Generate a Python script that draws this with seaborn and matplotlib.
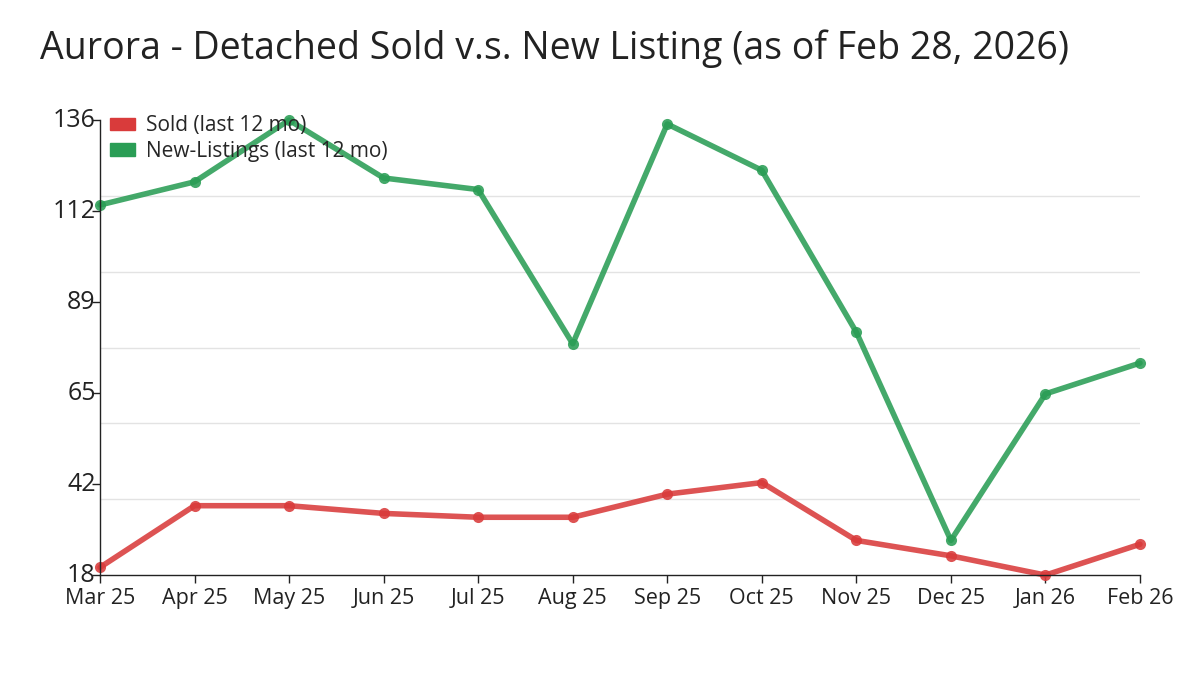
import pandas as pd
import seaborn as sns
import numpy as np
import matplotlib.pyplot as plt
import matplotlib.transforms as mtransforms
from matplotlib.patches import Patch
from matplotlib.ticker import FixedLocator

# data
months = ['Mar 25', 'Apr 25', 'May 25', 'Jun 25', 'Jul 25', 'Aug 25',
          'Sep 25', 'Oct 25', 'Nov 25', 'Dec 25', 'Jan 26', 'Feb 26']
sold = [20, 36, 36, 34, 33, 33, 39, 42, 27, 23, 18, 26]
new_listings = [114, 120, 136, 121, 118, 78, 135, 123, 81, 27, 65, 73]
series_names = ['Sold (last 12 mo)', 'New-Listings (last 12 mo)']
colors = ['#d93b3b', '#2a9d55']

df = pd.DataFrame({
    'month': list(range(len(months))) * 2,
    'value': sold + new_listings,
    'series': [series_names[0]] * len(months) + [series_names[1]] * len(months),
})

sns.set_style('white')
plt.rcParams['font.family'] = ['Open Sans', 'DejaVu Sans']

fig = plt.figure(figsize=(12, 6.75), dpi=100)
ax = fig.add_axes([0.0833, 0.148, 0.8667, 0.674])

sns.lineplot(data=df, x='month', y='value', hue='series', palette=colors,
             marker='o', markersize=8, markeredgewidth=0, linewidth=4,
             alpha=0.88, legend=False, ax=ax)
for ln in ax.lines:
    ln.set_clip_on(False)

ymin, ymax = min(sold), max(new_listings)
ax.set_xlim(0, len(months) - 1)
ax.set_ylim(ymin, ymax)

# labelled ticks at 5 steps, gridlines at 6 steps
yt = np.linspace(ymin, ymax, 6)
ax.set_yticks(yt)
ax.set_yticklabels([str(int(round(v))) for v in yt], fontsize=18, color='#222222')
ax.yaxis.set_minor_locator(FixedLocator(np.linspace(ymin, ymax, 7)))
ax.grid(False)
ax.grid(True, which='minor', axis='y', color='#e3e3e3', linewidth=1)
ax.tick_params(axis='y', which='minor', length=0)

ax.set_xticks(range(len(months)))
ax.set_xticklabels(months, fontsize=15.5, color='#222222')
ax.tick_params(axis='both', which='major', direction='out', length=6,
               width=1, color='#222222')
ax.tick_params(axis='x', bottom=True, pad=3)
ax.tick_params(axis='y', left=True, pad=-3)

# nudge y labels up a little, like the original
up = mtransforms.ScaledTranslation(0, 2.5 / 100, fig.dpi_scale_trans)
for lbl in ax.get_yticklabels():
    lbl.set_transform(lbl.get_transform() + up)

for s in ['top', 'right']:
    ax.spines[s].set_visible(False)
for s in ['left', 'bottom']:
    ax.spines[s].set_color('#222222')
    ax.spines[s].set_linewidth(1)

ax.set_xlabel('')
ax.set_ylabel('')

handles = [Patch(color=c, label=n) for c, n in zip(colors, series_names)]
ax.legend(handles=handles, loc='upper left', bbox_to_anchor=(-0.004, 1.043),
          frameon=False, fontsize=15, handlelength=1.2, handleheight=0.55,
          handletextpad=0.5, labelspacing=0.22, borderaxespad=0.3)

fig.text(0.033, 0.928, 'Aurora - Detached Sold v.s. New Listing (as of Feb 28, 2026)',
         fontsize=27, color='#222222', va='center', ha='left')

fig.savefig('out.png', dpi=100)
